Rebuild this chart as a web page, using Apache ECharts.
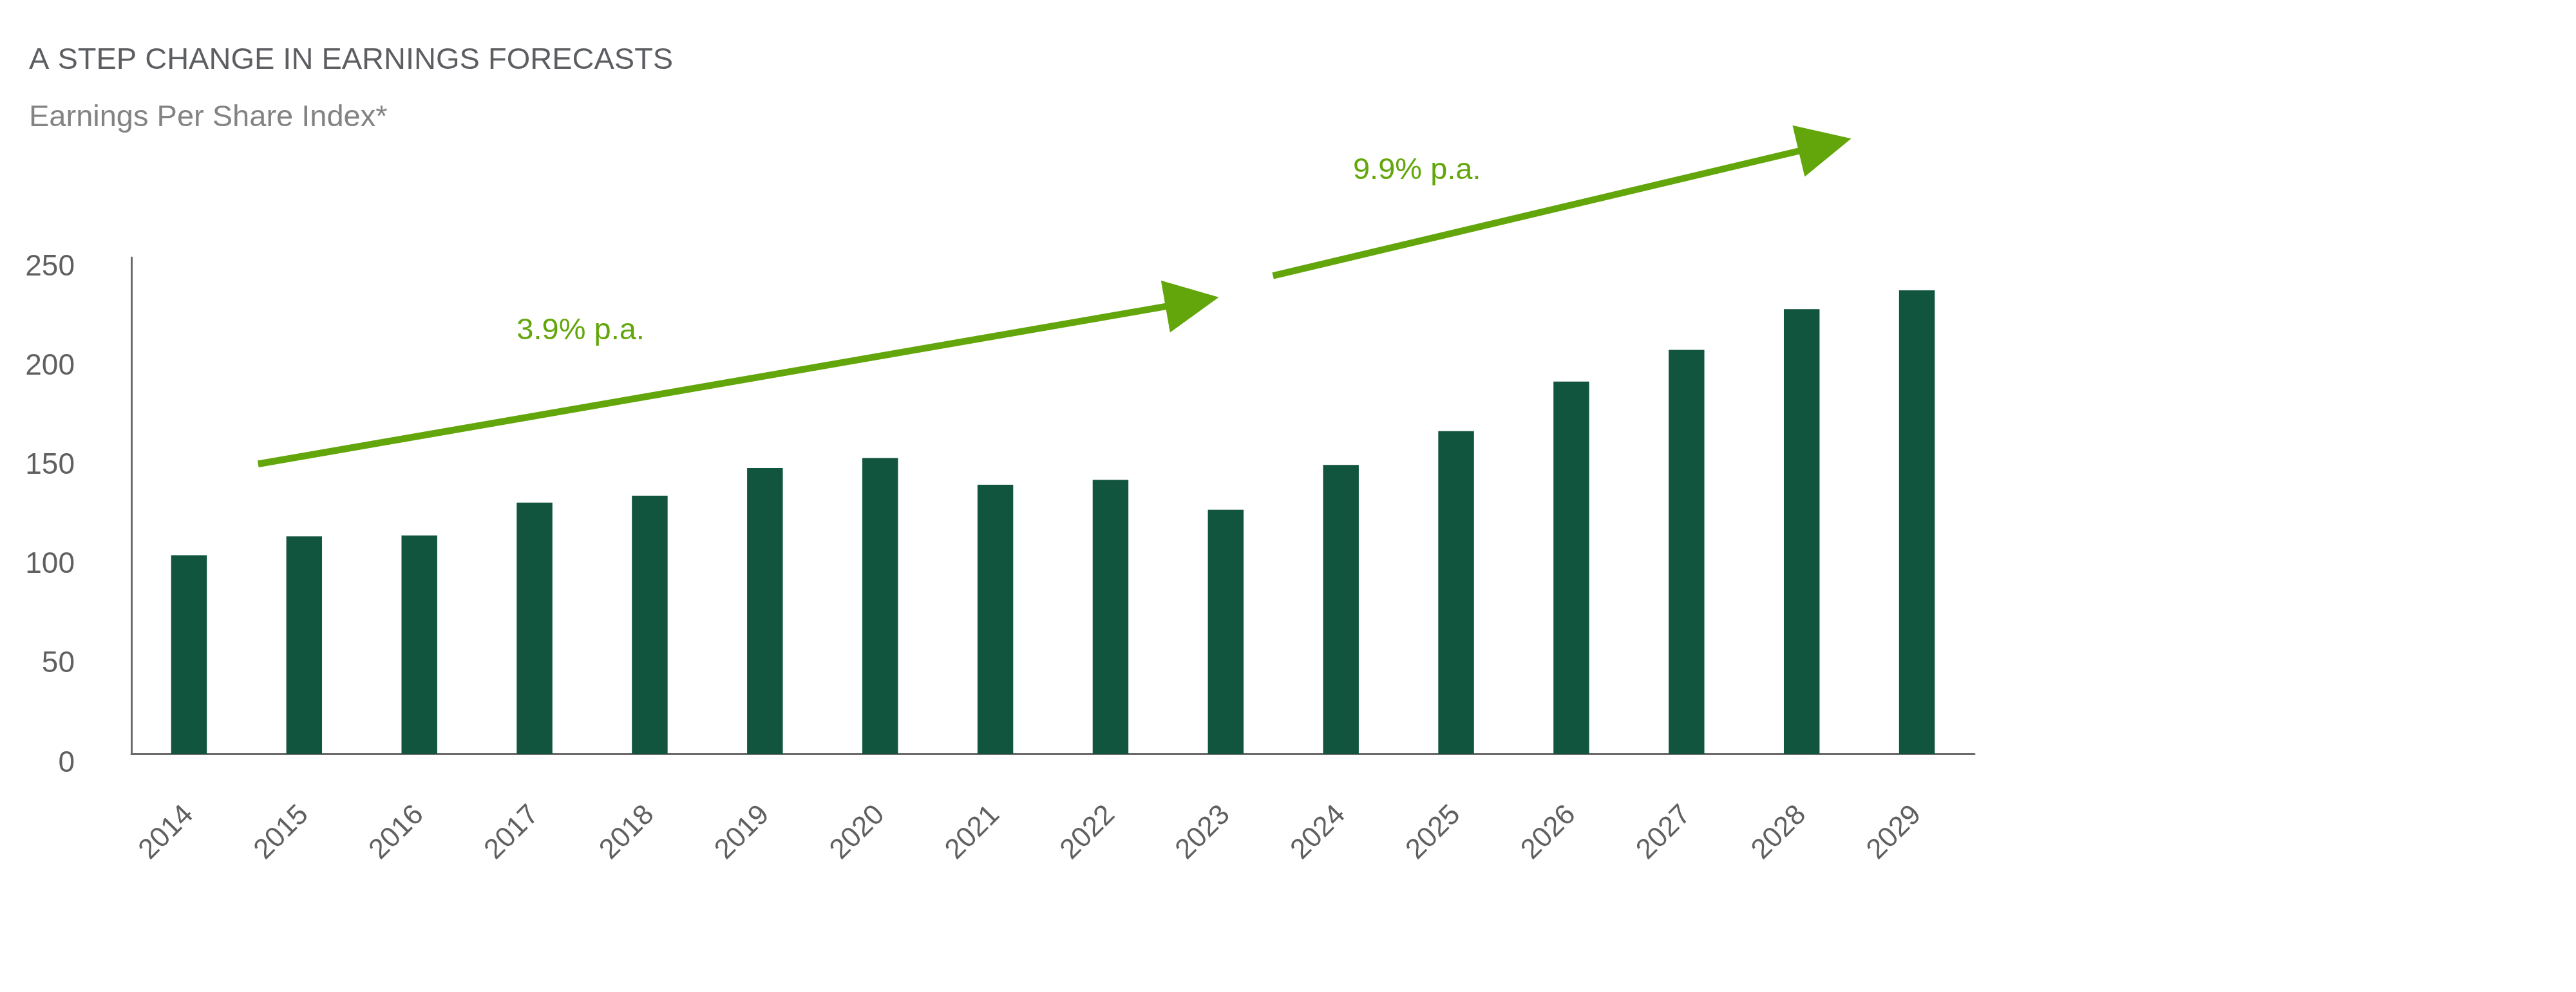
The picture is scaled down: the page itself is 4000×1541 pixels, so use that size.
<!DOCTYPE html>
<html>
<head>
<meta charset="utf-8">
<script src="https://cdn.jsdelivr.net/npm/echarts@6/dist/echarts.min.js"></script>
<style>
html,body{margin:0;padding:0;background:#ffffff;}
#chart{width:4000px;height:1541px;}
</style>
</head>
<body>
<div id="chart"></div>
<script>
// ---- data ----
const years = ['2014','2015','2016','2017','2018','2019','2020','2021','2022','2023','2024','2025','2026','2027','2028','2029'];
const epsIndex = [100, 109.5, 110, 126.5, 130, 144, 149, 135.5, 138, 123, 145.5, 162.5, 187.5, 203.5, 224, 233.5];
const yTicks = [0, 50, 100, 150, 200, 250];
const titleText = 'A STEP CHANGE IN EARNINGS FORECASTS';
const subtitleText = 'Earnings Per Share Index*';
// growth arrows, in data space (category index, index value)
const arrowStarts = [[0.6, 146], [9.41, 240.8]];
const arrowEnds = [[8.94, 230], [14.43, 309.9]];
const arrowLabels = ['3.9% p.a.', '9.9% p.a.'];
const arrowLabelAt = [[3.4, 213], [10.66, 293.6]];

// ---- styles ----
const FONT = '"Liberation Sans", Arial, sans-serif';
const GREEN = '#63a60b';
const BAR = '#11553f';
const AXIS = '#6a6a6a';
const LABEL = '#5f6062';

const arrowData = arrowStarts.map((s, i) => [s[0], s[1], arrowEnds[i][0], arrowEnds[i][1], arrowLabelAt[i][0], arrowLabelAt[i][1]]);

const chart = echarts.init(document.getElementById('chart'), null, {renderer: 'canvas'});
chart.setOption({
  backgroundColor: '#ffffff',
  animation: false,
  title: [
    {text: titleText, left: 40, top: 66,
     textStyle: {fontFamily: FONT, fontSize: 47, fontWeight: 'normal', color: '#5d5e62'}},
    {text: subtitleText, left: 40, top: 155,
     textStyle: {fontFamily: FONT, fontSize: 47, fontWeight: 'normal', color: '#838383'}}
  ],
  grid: {left: 204, right: 934, top: 400, bottom: 370, containLabel: false},
  xAxis: [
    {
      type: 'category',
      data: years,
      axisLine: {show: true, lineStyle: {color: AXIS, width: 3}},
      axisTick: {show: false},
      axisLabel: {rotate: 45, margin: 88, fontFamily: FONT, fontSize: 44, color: LABEL, interval: 0},
      splitLine: {show: false}
    },
    {
      type: 'value', show: false, min: -0.5, max: years.length - 0.5,
      splitLine: {show: false}
    }
  ],
  yAxis: {
    type: 'value',
    min: yTicks[0],
    max: yTicks[yTicks.length - 1],
    interval: yTicks[1] - yTicks[0],
    axisLine: {show: true, onZero: false, lineStyle: {color: AXIS, width: 3}},
    axisTick: {show: false},
    splitLine: {show: false},
    axisLabel: {margin: 88, fontFamily: FONT, fontSize: 46, color: LABEL, verticalAlign: 'top', lineHeight: 30}
  },
  series: [
    {
      type: 'bar',
      data: epsIndex,
      barWidth: '31%',
      itemStyle: {color: BAR},
      silent: true
    },
    {
      type: 'custom',
      xAxisIndex: 1,
      yAxisIndex: 0,
      clip: false,
      silent: true,
      z: 5,
      data: arrowData,
      renderItem: function (params, api) {
        const p1 = api.coord([api.value(0), api.value(1)]);
        const p2 = api.coord([api.value(2), api.value(3)]);
        const lp = api.coord([api.value(4), api.value(5)]);
        const dx = p2[0] - p1[0], dy = p2[1] - p1[1];
        const len = Math.hypot(dx, dy);
        const ux = dx / len, uy = dy / len;
        const headLen = 84, headHalf = 41;
        const bx = p2[0] - ux * headLen, by = p2[1] - uy * headLen;
        const nx = -uy, ny = ux;
        return {
          type: 'group',
          children: [
            {type: 'line', shape: {x1: p1[0], y1: p1[1], x2: bx + ux * 4, y2: by + uy * 4},
             style: {stroke: GREEN, lineWidth: 10.5, lineCap: 'butt'}},
            {type: 'polygon', shape: {points: [[p2[0], p2[1]], [bx + nx * headHalf, by + ny * headHalf], [bx - nx * headHalf, by - ny * headHalf]]},
             style: {fill: GREEN}},
            {type: 'text', x: lp[0], y: lp[1],
             style: {text: arrowLabels[params.dataIndex], fill: GREEN, fontFamily: FONT, fontSize: 47,
                     align: 'center', verticalAlign: 'middle'}}
          ]
        };
      }
    }
  ]
});
</script>
</body>
</html>
